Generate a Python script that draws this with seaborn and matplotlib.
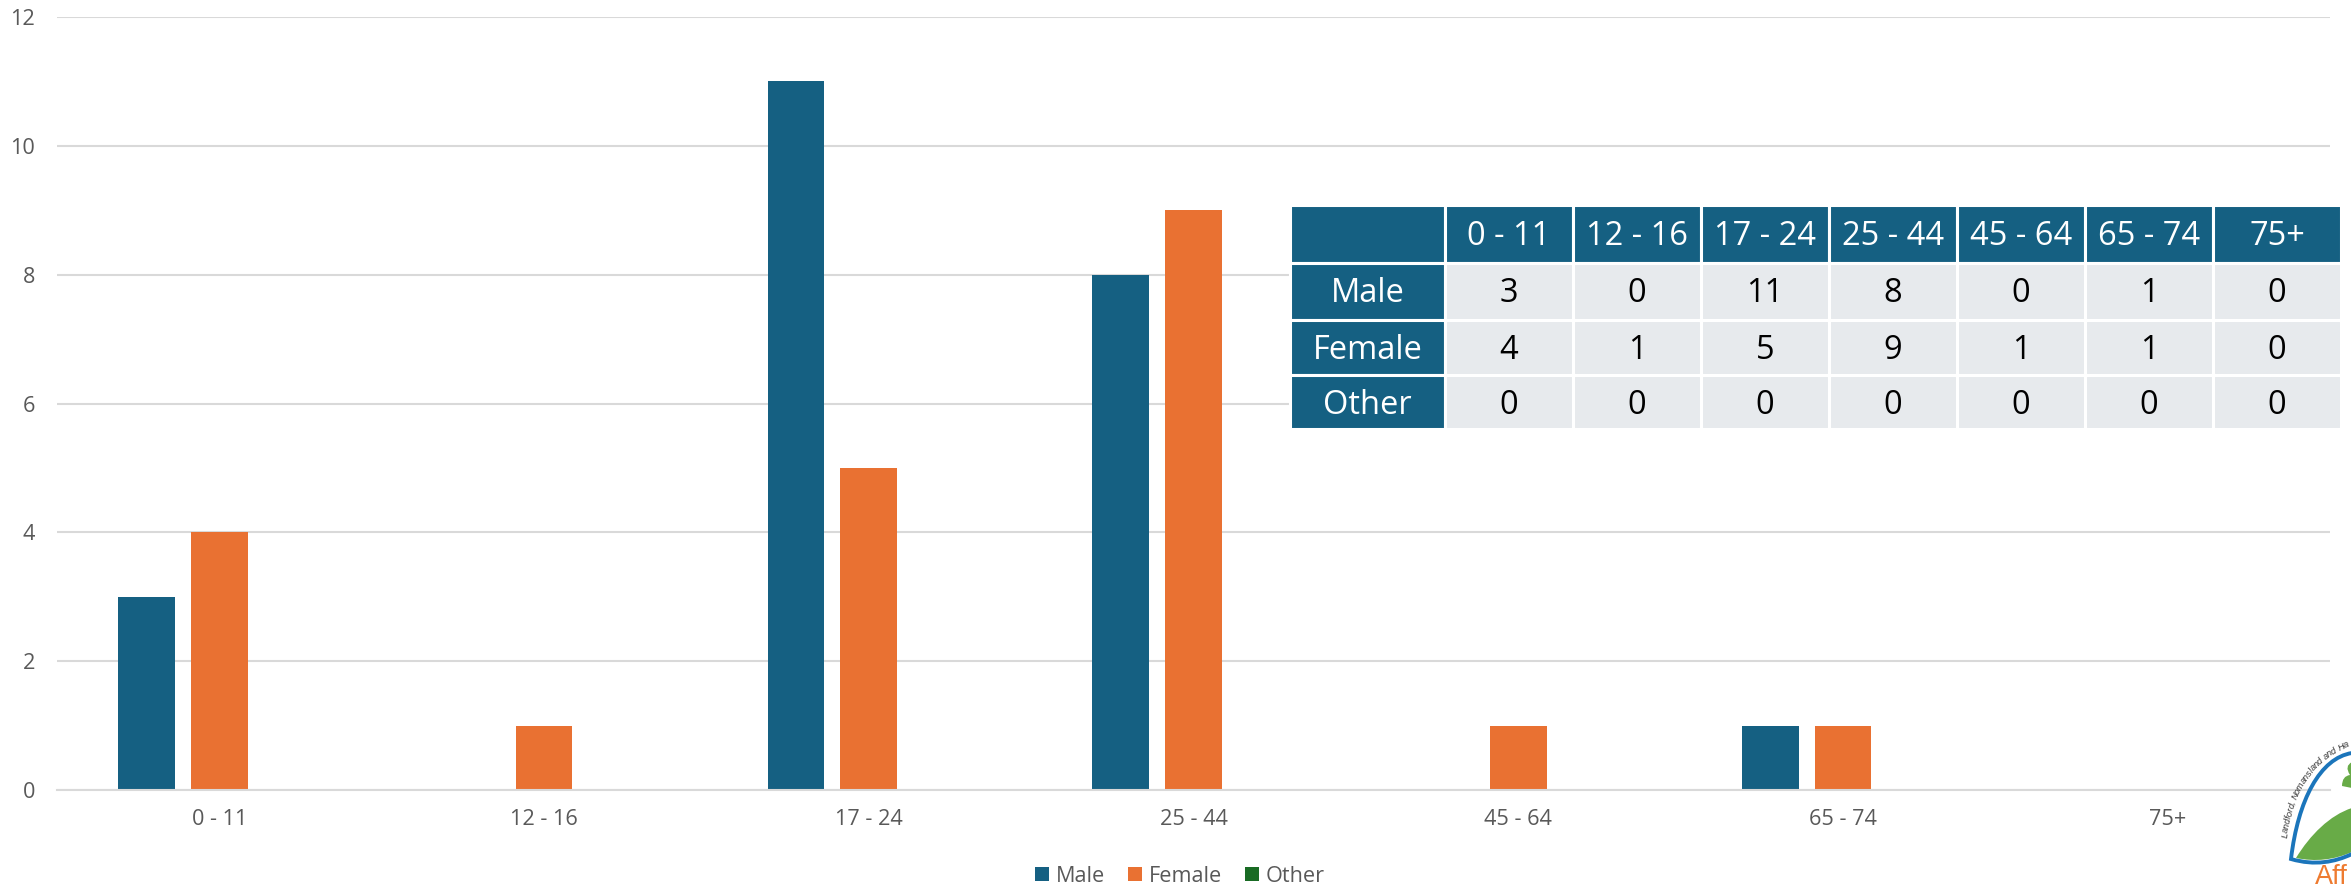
import numpy as np
import pandas as pd
import matplotlib
matplotlib.use("Agg")
import matplotlib.pyplot as plt
import seaborn as sns
from matplotlib.path import Path
from matplotlib.patches import PathPatch
from matplotlib.transforms import Affine2D

AGE_GROUPS = ["0 - 11", "12 - 16", "17 - 24", "25 - 44", "45 - 64", "65 - 74", "75+"]
GENDERS = ["Male", "Female", "Other"]
MALE = [3, 0, 11, 8, 0, 1, 0]
FEMALE = [4, 1, 5, 9, 1, 1, 0]
OTHER = [0, 0, 0, 0, 0, 0, 0]
COLORS = ["#156082", "#E97132", "#196B24"]

W, H = 2351, 884
GREY = "#595959"
GRID = "#D9D9D9"
CELL = "#E7EAED"
FONT = "Open Sans"


def build_frame():
    rows = []
    for gender, values in zip(GENDERS, [MALE, FEMALE, OTHER]):
        for age, v in zip(AGE_GROUPS, values):
            rows.append({"age": age, "gender": gender, "count": v})
    return pd.DataFrame(rows)


def draw_table(ax):
    left, right, top, bottom = 1290, 2341, 205, 429
    ax_box = ax.get_position()
    x0 = (left / W - ax_box.x0) / ax_box.width
    x1 = (right / W - ax_box.x0) / ax_box.width
    y0 = ((1 - bottom / H) - ax_box.y0) / ax_box.height
    y1 = ((1 - top / H) - ax_box.y0) / ax_box.height

    cells = [[""] + AGE_GROUPS]
    for gender, values in zip(GENDERS, [MALE, FEMALE, OTHER]):
        cells.append([gender] + [str(v) for v in values])

    widths = [155] + [128] * 7
    heights = [57.5, 57, 55.5, 54]
    table = ax.table(cellText=cells, colWidths=widths, cellLoc="center",
                     bbox=[x0, y0, x1 - x0, y1 - y0], zorder=5)
    table.auto_set_font_size(False)
    for (r, c), cell in table.get_celld().items():
        cell.set_height(heights[r])
        cell.set_edgecolor("white")
        cell.set_linewidth(2.2)
        head = r == 0 or c == 0
        cell.set_facecolor(COLORS[0] if head else CELL)
        txt = cell.get_text()
        txt.set_color("white" if head else "black")
        txt.set_fontsize(23.5)
        # numbers sit a little under the middle of the row
        txt.set_transform(Affine2D().translate(0, -3))


def bezier_points(p0, p1, p2, p3, n=300):
    t = np.linspace(0, 1, n)[:, None]
    return (1-t)**3*p0 + 3*(1-t)**2*t*p1 + 3*(1-t)*t**2*p2 + t**3*p3


def draw_logo(fig):
    # small logo cut off by the right edge, drawn in pixel coordinates
    tr = Affine2D().scale(1 / W, -1 / H).translate(0, 1) + fig.transFigure

    leaf = Path([(2296, 858), (2310, 835), (2330, 815), (2352, 808),
                 (2352, 852), (2325, 864), (2296, 858)],
                [Path.MOVETO, Path.CURVE4, Path.CURVE4, Path.CURVE4,
                 Path.LINETO, Path.CURVE3, Path.CURVE3])
    fig.add_artist(PathPatch(leaf, fc="#68AB47", ec="none", transform=tr))

    blob = Path([(2352, 762), (2344, 766), (2350, 775), (2342, 776),
                 (2342, 786), (2352, 788)],
                [Path.MOVETO, Path.CURVE3, Path.CURVE3, Path.CURVE3,
                 Path.CURVE3, Path.LINETO])
    fig.add_artist(PathPatch(blob, fc="#68AB47", ec="none", transform=tr))

    arc = Path([(2352, 753), (2320, 758), (2298, 800), (2291, 859),
                (2315, 866), (2335, 862), (2352, 854)],
               [Path.MOVETO, Path.CURVE4, Path.CURVE4, Path.CURVE4,
                Path.CURVE4, Path.CURVE4, Path.CURVE4])
    fig.add_artist(PathPatch(arc, fc="none", ec="#1B75BB", lw=2.8, transform=tr))

    # motto follows the arc, one letter at a time
    text = "Landford, Nomansland and Ha"
    pts = bezier_points(*[np.array(p, float) for p in
                          [(2285, 838), (2290, 790), (2315, 755), (2352, 743)]])
    seg = np.hypot(*np.diff(pts, axis=0).T)
    dist = np.concatenate([[0], np.cumsum(seg)])
    narrow = {"l": 0.5, "f": 0.6, "r": 0.7, ",": 0.5, " ": 0.6, "m": 1.5, "N": 1.4, "L": 1.1, "H": 1.4}
    weights = np.array([narrow.get(ch, 1.0) for ch in text])
    centers = (np.cumsum(weights) - weights / 2) / weights.sum() * dist[-1] * 0.97
    for ch, s in zip(text, centers):
        i = min(np.searchsorted(dist, s), len(pts) - 2)
        d = pts[i + 1] - pts[i]
        angle = np.degrees(np.arctan2(-d[1], d[0]))
        fig.text(pts[i][0] / W, 1 - pts[i][1] / H, ch, fontsize=6.6, style="italic",
                 rotation=angle, rotation_mode="anchor", ha="center", va="center",
                 color="#333333", family="Liberation Sans")

    fig.text(2315 / W, 1 - 883.5 / H, "Aff", fontsize=19.5, color="#EE7B30",
             family="Liberation Sans", ha="left", va="baseline")


def main():
    sns.set_theme(style="white")
    plt.rcParams["font.family"] = [FONT, "DejaVu Sans"]

    df = build_frame()
    fig = plt.figure(figsize=(W / 100, H / 100), dpi=100)
    ax = fig.add_axes([57 / W, 1 - 790 / H, (2330 - 57) / W, (790 - 17) / H])

    sns.barplot(data=df, x="age", y="count", hue="gender", order=AGE_GROUPS,
                hue_order=GENDERS, palette=COLORS, width=0.672, gap=0.22,
                saturation=1, linewidth=0, ax=ax, zorder=3)

    ax.set_xlim(-0.5, 6.5)
    ax.set_ylim(0, 12)
    ax.set_yticks(range(0, 13, 2))
    ax.set_xlabel("")
    ax.set_ylabel("")
    ax.grid(axis="y", color=GRID, lw=1.5, zorder=0)
    ax.set_axisbelow(True)
    sns.despine(ax=ax, left=True)
    ax.spines["bottom"].set_color(GRID)
    ax.spines["bottom"].set_linewidth(1.5)
    ax.spines["bottom"].set_zorder(4)
    ax.tick_params(axis="both", length=0, labelsize=15.6, labelcolor=GREY)
    ax.tick_params(axis="x", pad=14)
    ax.tick_params(axis="y", pad=16)

    handles, labels = ax.get_legend_handles_labels()
    ax.legend(handles, labels, loc="center", ncol=3, frameon=False, fontsize=15.6,
              labelcolor=GREY, bbox_to_anchor=(1180 / W, 1 - 876 / H),
              bbox_transform=fig.transFigure, handlelength=0.645, handleheight=0.645,
              handletextpad=0.32, columnspacing=1.05, borderpad=0)

    draw_table(ax)
    draw_logo(fig)
    fig.savefig("out.png", dpi=100)
    plt.close(fig)


if __name__ == "__main__":
    main()
